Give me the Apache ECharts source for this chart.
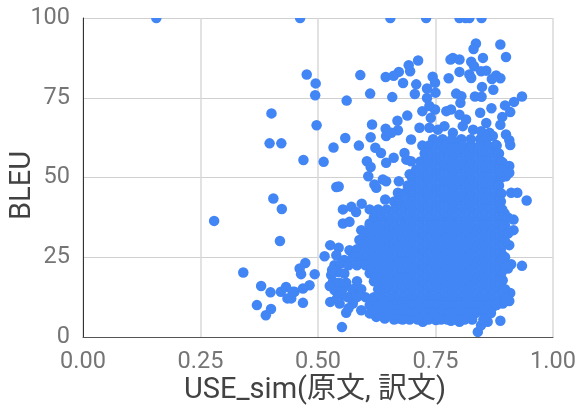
<!DOCTYPE html>
<html>
<head>
<meta charset="utf-8">
<style>
html, body { margin: 0; padding: 0; background: #fff; }
#chart { width: 578px; height: 407px; }
</style>
<script src="https://cdn.jsdelivr.net/npm/echarts@6/dist/echarts.min.js"></script>
</head>
<body>
<div id="chart"></div>
<script>
var xTickLabels = ['0.00', '0.25', '0.50', '0.75', '1.00'];
var yTickLabels = ['0', '25', '50', '75', '100'];

// points at BLEU = 100, clipped by the top of the plot
var topSim = [.156, .462, .654, .730, .801, .814, .822, .848];

// points that can be read one by one: [USE_sim, BLEU]
var loosePoints = [
    [.836,92.0],[.831,90.3],[.888,91.7],[.900,87.8],[.851,87.5],[.801,87.0],[.787,87.5],[.782,87.0],
    [.826,86.3],[.832,84.9],[.801,83.1],[.847,83.3],[.858,83.5],[.822,82.3],[.826,81.2],[.879,82.0],
    [.888,81.1],[.870,80.9],[.778,81.1],[.744,81.6],[.749,79.7],[.713,86.7],[.693,85.2],[.696,83.3],
    [.672,83.1],[.661,81.9],[.644,81.5],[.681,79.6],[.709,79.2],[.590,82.1],[.476,82.3],[.495,79.5],
    [.494,75.8],[.611,76.3],[.561,74.1],[.658,75.2],[.706,76.2],[.732,77.9],[.750,76.6],[.732,74.9],
    [.794,76.3],[.805,75.5],[.803,73.4],[.849,78.4],[.873,77.5],[.834,75.4],[.848,75.3],[.934,75.4],
    [.917,73.7],[.898,72.6],[.909,70.5],[.869,71.7],[.845,70.3],[.892,69.0],[.888,66.5],[.858,67.1],
    [.900,63.5],[.907,61.7],[.909,60.2],[.879,60.2],[.497,66.4],[.615,66.6],[.669,67.8],[.690,69.4],
    [.722,70.8],[.737,72.4],[.749,71.3],[.740,68.7],[.773,70.8],[.783,71.3],[.801,69.7],[.815,68.2],
    [.644,65.3],[.670,64.8],[.656,64.0],[.645,63.0],[.612,62.6],[.558,62.4],[.533,59.4],[.587,60.0],
    [.622,59.3],[.634,57.7],[.469,55.5],[.512,54.9],[.604,55.1],[.612,53.3],[.607,50.4],[.645,54.6],
    [.661,56.2],[.684,57.7],[.688,55.6],[.698,55.1],[.698,61.9],[.716,65.6],[.737,65.6],[.755,65.0],
    [.769,66.1],[.787,64.0],[.808,66.1],[.830,65.0],[.847,64.5],[.865,64.0],[.872,63.0],[.624,46.8],
    [.645,48.8],[.638,49.4],[.620,47.8],[.539,47.0],[.544,47.2],[.672,48.8],[.695,51.0],[.670,45.2],
    [.643,43.1],[.593,41.8],[.893,54.6],[.907,53.6],[.907,51.5],[.900,50.4],[.911,45.2],[.924,45.2],
    [.944,42.8],[.553,40.0],[.571,40.8],[.581,39.2],[.553,35.6],[.567,36.1],[.526,28.8],[.544,28.0],
    [.514,25.3],[.539,25.6],[.567,27.2],[.588,30.4],[.592,33.5],[.610,35.6],[.556,24.1],[.535,22.5],
    [.542,20.4],[.556,19.9],[.528,19.4],[.532,17.3],[.535,14.7],[.526,11.0],[.546,10.5],[.560,7.6],
    [.551,3.1],[.553,15.2],[.574,14.7],[.592,23.6],[.574,10.5],[.592,8.4],[.610,7.4],
    [.624,6.3],[.642,5.8],[.673,5.8],[.723,4.8],[.751,5.3],[.783,5.1],[.801,4.8],[.840,1.6],
    [.847,3.7],[.861,4.8],[.888,5.1],[.907,11.3],[.909,13.8],[.893,10.5],[.872,9.5],[.865,7.4],
    [.934,22.3],[.911,22.8],[.904,21.5],[.893,17.8],[.907,28.8],[.916,33.5],[.916,36.8],[.897,38.7],
    [.900,32.4],[.893,25.6],[.473,23.2],[.461,21.5],[.493,19.7],[.464,19.7],[.482,16.2],[.468,15.2],
    [.450,14.2],[.468,10.7],[.443,12.1],[.279,36.4],[.423,40.1],[.419,30.1],[.341,20.2],[.379,16.0],
    [.399,14.0],[.370,10.0],[.400,8.8],[.389,6.8],[.421,14.2],[.432,15.7],[.435,12.1],[.446,14.2],
    [.401,70.1],[.397,60.7],[.422,60.7],[.405,43.4],
    [.548,23.0],[.565,22.5],[.530,21.0],[.545,17.0],[.560,17.0],[.548,13.0],[.563,12.5],[.540,12.0],
    [.525,16.0],[.565,9.0]
];

// the solid mass, where single dots merge: one BLEU level, then the USE_sim readings on it
var massBleu = [62, 60, 57.5, 55, 52.5, 50, 47.5, 45, 42.5, 40, 37.5, 35, 32.5, 30, 27.5, 25, 22.5, 20, 17.5, 15, 12.5, 10, 7.5, 5.5];
var massSim = [
    [.745,.765,.785,.805,.825,.845,.858],
    [.722,.736,.754,.772,.790,.808,.826,.844,.862,.880],
    [.727,.745,.763,.781,.799,.817,.835,.853,.871,.885],
    [.718,.736,.754,.772,.790,.808,.826,.844,.862,.880,.890],
    [.709,.727,.745,.763,.781,.799,.817,.835,.853,.871,.889],
    [.700,.718,.736,.754,.772,.790,.808,.826,.844,.862,.880,.890],
    [.691,.709,.727,.745,.763,.781,.799,.817,.835,.853,.871,.885],
    [.682,.700,.718,.736,.754,.772,.790,.808,.826,.844,.862,.880,.890],
    [.662,.673,.691,.709,.727,.745,.763,.781,.799,.817,.835,.853,.871,.889],
    [.610,.628,.646,.664,.682,.700,.718,.736,.754,.772,.790,.808,.826,.844,.862,.880,.892],
    [.619,.637,.655,.673,.691,.709,.727,.745,.763,.781,.799,.817,.835,.853,.871,.889,.904],
    [.610,.628,.646,.664,.682,.700,.718,.736,.754,.772,.790,.808,.826,.844,.862,.880,.898],
    [.601,.619,.637,.655,.673,.691,.709,.727,.745,.763,.781,.799,.817,.835,.853,.871,.889,.905],
    [.592,.610,.628,.646,.664,.682,.700,.718,.736,.754,.772,.790,.808,.826,.844,.862,.880,.898],
    [.583,.601,.619,.637,.655,.673,.691,.709,.727,.745,.763,.781,.799,.817,.835,.853,.871,.889],
    [.574,.592,.610,.628,.646,.664,.682,.700,.718,.736,.754,.772,.790,.808,.826,.844,.862,.880,.898],
    [.583,.601,.619,.637,.655,.673,.691,.709,.727,.745,.763,.781,.799,.817,.835,.853,.871,.889,.900],
    [.610,.628,.646,.664,.682,.700,.718,.736,.754,.772,.790,.808,.826,.844,.862,.880,.890],
    [.583,.619,.637,.655,.673,.691,.709,.727,.745,.763,.781,.799,.817,.835,.853,.871,.889],
    [.574,.592,.628,.646,.664,.682,.700,.718,.736,.754,.772,.790,.808,.826,.844,.862,.880,.898],
    [.583,.601,.619,.637,.655,.673,.691,.709,.727,.745,.763,.781,.799,.817,.835,.853,.871,.889,.900],
    [.610,.628,.646,.664,.682,.700,.718,.736,.754,.772,.790,.808,.826,.844,.862,.880],
    [.619,.637,.655,.673,.691,.709,.727,.745,.763,.781,.799,.817,.835,.853,.868],
    [.662,.680,.695,.712,.735,.762,.775,.795,.812,.828,.852]
];

var points = topSim.map(function (x) { return [x, 100]; }).concat(loosePoints);
massBleu.forEach(function (y, i) {
    massSim[i].forEach(function (x) { points.push([x, y]); });
});

var font = 'Roboto, "Noto Sans CJK JP", sans-serif';
var chart = echarts.init(document.querySelector('#chart'));
chart.setOption({
    animation: false,
    grid: { left: 83, right: 25, top: 18, bottom: 70, outerBoundsMode: 'none' },
    xAxis: {
        type: 'value',
        min: 0,
        max: 1,
        interval: 0.25,
        name: 'USE_sim(原文, 訳文)',
        nameLocation: 'middle',
        nameGap: 39,
        nameMoveOverlap: false,
        nameTextStyle: { color: '#424242', fontSize: 29, fontFamily: font, padding: [0, 6, 0, 0] },
        axisLine: { show: true, lineStyle: { color: '#555', width: 1 } },
        axisTick: { show: false },
        splitLine: { show: true, lineStyle: { color: '#d8d8d8', width: 1.5 } },
        axisLabel: {
            color: '#757575',
            fontSize: 23.5,
            fontFamily: font,
            margin: 13,
            hideOverlap: false,
            showMinLabel: true,
            showMaxLabel: true,
            formatter: function (v) { return xTickLabels[Math.round(v * 4)]; }
        }
    },
    yAxis: {
        type: 'value',
        min: 0,
        max: 100,
        interval: 25,
        name: 'BLEU',
        nameLocation: 'middle',
        nameGap: 46,
        nameMoveOverlap: false,
        nameTextStyle: { color: '#424242', fontSize: 29, fontFamily: font, padding: [0, 16, 0, 0] },
        axisLine: { show: true, lineStyle: { color: '#333', width: 1 } },
        axisTick: { show: false },
        splitLine: { show: true, lineStyle: { color: '#d0d0d0', width: 1 } },
        axisLabel: {
            color: '#757575',
            fontSize: 23.5,
            fontFamily: font,
            margin: 13,
            showMinLabel: true,
            showMaxLabel: true,
            formatter: function (v) { return yTickLabels[v / 25]; }
        }
    },
    series: [{
        // custom series because scatter does not cut the dots at the plot edge
        type: 'custom',
        data: points,
        clip: true,
        encode: { x: 0, y: 1 },
        renderItem: function (params, api) {
            var c = api.coord([api.value(0), api.value(1)]);
            return {
                type: 'circle',
                shape: { cx: c[0], cy: c[1], r: 5.25 },
                style: { fill: '#4285f4' }
            };
        }
    }]
});
</script>
</body>
</html>
